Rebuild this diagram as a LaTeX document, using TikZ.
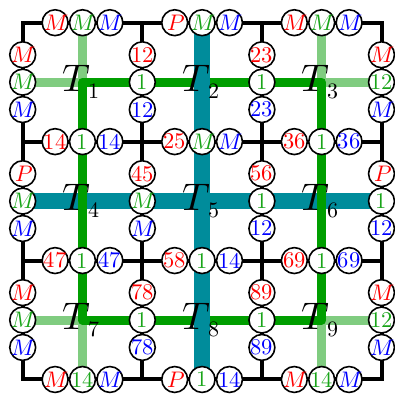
\documentclass[tikz,border=0pt]{standalone}
\usepackage{fontspec}
\newfontfamily\lmm{Latin Modern Math}
\definecolor{dkg}{RGB}{0,158,0}
\definecolor{ltg}{RGB}{128,204,128}
\definecolor{tealc}{RGB}{0,140,155}
\definecolor{cr}{RGB}{255,0,0}
\definecolor{cg}{RGB}{25,165,25}
\definecolor{cb}{RGB}{0,0,255}
\newcommand\spc{27.4pt}
\newcommand\htrip[5]{%
  \node[cc,text=cr] (#1r) at ([xshift=-\spc]#2) {#3};
  \node[cc,text=cg] (#1g) at (#2) {#4};
  \node[cc,text=cb] (#1b) at ([xshift=\spc]#2) {#5};}
\newcommand\vtrip[5]{%
  \node[cc,text=cr] (#1r) at ([yshift=\spc]#2) {#3};
  \node[cc,text=cg] (#1g) at (#2) {#4};
  \node[cc,text=cb] (#1b) at ([yshift=-\spc]#2) {#5};}
\newcommand\iM{^^^^^^01d440}
\newcommand\iP{^^^^^^01d443}
\newcommand\tlabel[1]{^^^^^^01d447\kern3.5pt\raisebox{-7.5pt}{\fontsize{22}{22}\selectfont #1}}
\begin{document}
\begin{tikzpicture}[x=119.6pt,y=-118.93pt,
  cc/.style={circle,draw=black,line width=1.6pt,fill=white,minimum size=25.9pt,inner sep=-2pt,font=\lmm\fontsize{22.5}{22.5}\selectfont},
  blk/.style={line width=4pt,black},
  ltline/.style={line width=9pt,ltg},
  dkline/.style={line width=9pt,dkg,line join=round},
  tlline/.style={line width=15.5pt,tealc},
  tlab/.style={inner sep=0pt,xshift=-1.5pt,font=\lmm\fontsize{38.5}{40}\selectfont}]
\useasboundingbox (-22.7pt,22.7pt) rectangle ++(395pt,-395pt);
\foreach \i in {0,...,3}{\foreach \j in {0,...,3}{\coordinate (g\i\j) at (\i,\j);}}
\foreach \i/\ii in {0/0.5,1/1.5,2/2.5}{\foreach \j/\jj in {0/0.5,1/1.5,2/2.5}{\coordinate (c\i\j) at (\ii,\jj);}}
\coordinate (tTop) at (1.5,0);
\coordinate (tBot) at (1.5,3);
\coordinate (tLeft) at (0,1.5);
\coordinate (tRight) at (3,1.5);
\coordinate (eT0) at (0.5,0); \coordinate (eT2) at (2.5,0);
\coordinate (eB0) at (0.5,3); \coordinate (eB2) at (2.5,3);
\coordinate (eL0) at (0,0.5); \coordinate (eL2) at (0,2.5);
\coordinate (eR0) at (3,0.5); \coordinate (eR2) at (3,2.5);
% light green extensions
\draw[ltline] (eT0) -- (c00);
\draw[ltline] (eL0) -- (c00);
\draw[ltline] (eT2) -- (c20);
\draw[ltline] (eR0) -- (c20);
\draw[ltline] (eB0) -- (c02);
\draw[ltline] (eL2) -- (c02);
\draw[ltline] (eB2) -- (c22);
\draw[ltline] (eR2) -- (c22);
% teal horizontal
\draw[tlline] (tLeft) -- (tRight);
% dark green loop
\draw[dkline] (c00) -- (c20) -- (c22) -- (c02) -- cycle;
% teal vertical
\draw[tlline] (tTop) -- (tBot);
% black grid
\draw[blk] (g00) -- (g30) -- (g33) -- (g03) -- cycle;
\draw[blk] (g10) -- (g13);
\draw[blk] (g20) -- (g23);
\draw[blk] (g01) -- (g31);
\draw[blk] (g02) -- (g32);
% circles on horizontal edges
\htrip{ta}{0.5,0}{\iM}{\iM}{\iM}
\htrip{tb}{1.5,0}{\iP}{\iM}{\iM}
\htrip{tc}{2.5,0}{\iM}{\iM}{\iM}
\htrip{ba}{0.5,3}{\iM}{14}{\iM}
\htrip{bb}{1.5,3}{\iP}{1}{14}
\htrip{bc}{2.5,3}{\iM}{14}{\iM}
\htrip{pa}{0.5,1}{14}{1}{14}
\htrip{pb}{1.5,1}{25}{\iM}{\iM}
\htrip{pc}{2.5,1}{36}{1}{36}
\htrip{qa}{0.5,2}{47}{1}{47}
\htrip{qb}{1.5,2}{58}{1}{14}
\htrip{qc}{2.5,2}{69}{1}{69}
% circles on vertical edges
\vtrip{la}{0,0.5}{\iM}{\iM}{\iM}
\vtrip{lb}{0,1.5}{\iP}{\iM}{\iM}
\vtrip{lc}{0,2.5}{\iM}{\iM}{\iM}
\vtrip{ra}{3,0.5}{\iM}{12}{\iM}
\vtrip{rb}{3,1.5}{\iP}{1}{12}
\vtrip{rc}{3,2.5}{\iM}{12}{\iM}
\vtrip{ua}{1,0.5}{12}{1}{12}
\vtrip{ub}{1,1.5}{45}{\iM}{\iM}
\vtrip{uc}{1,2.5}{78}{1}{78}
\vtrip{wa}{2,0.5}{23}{1}{23}
\vtrip{wb}{2,1.5}{56}{1}{12}
\vtrip{wc}{2,2.5}{89}{1}{89}
% cell labels
\node[tlab] (T1) at (c00) {\tlabel{1}};
\node[tlab] (T2) at (c10) {\tlabel{2}};
\node[tlab] (T3) at (c20) {\tlabel{3}};
\node[tlab] (T4) at (c01) {\tlabel{4}};
\node[tlab] (T5) at (c11) {\tlabel{5}};
\node[tlab] (T6) at (c21) {\tlabel{6}};
\node[tlab] (T7) at (c02) {\tlabel{7}};
\node[tlab] (T8) at (c12) {\tlabel{8}};
\node[tlab] (T9) at (c22) {\tlabel{9}};
\end{tikzpicture}
\end{document}
